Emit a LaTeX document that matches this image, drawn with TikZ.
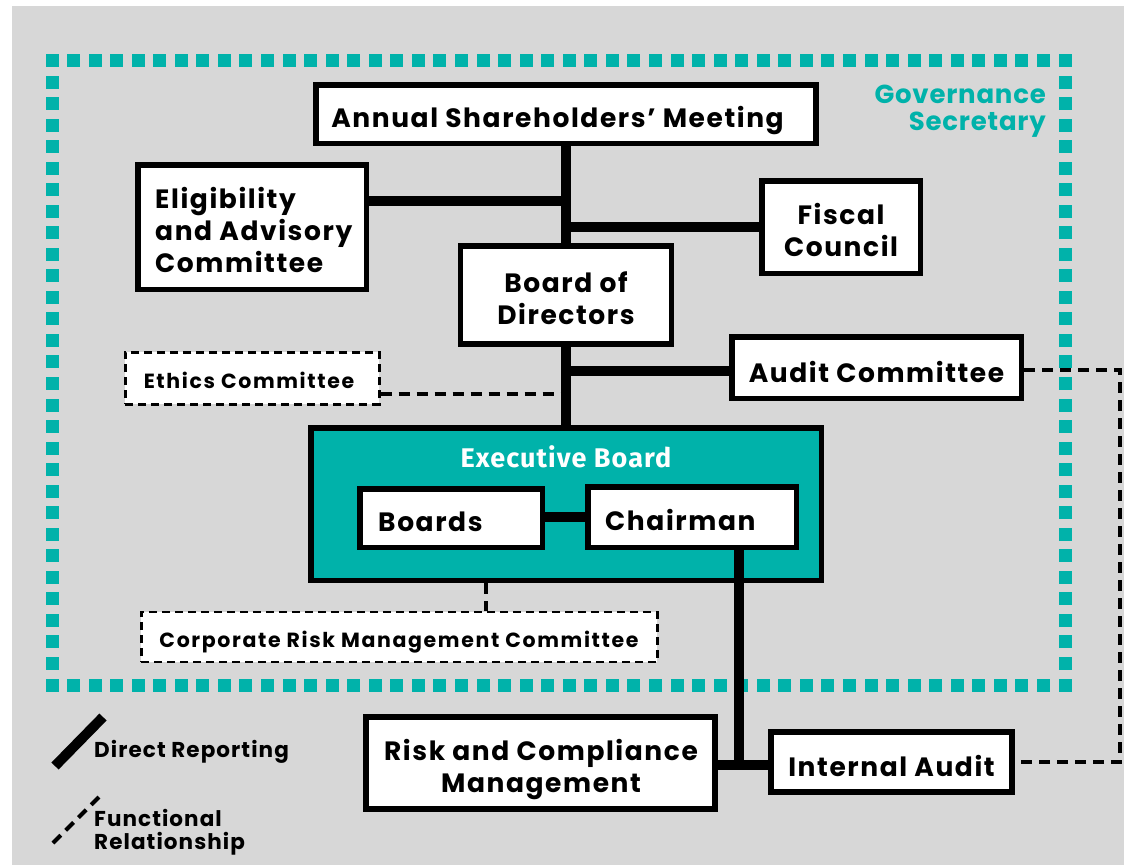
\documentclass[tikz,border=0pt]{standalone}
\usepackage{fontspec}
\setmainfont{Poppins}
\newfontfamily\popw{Poppins}[LetterSpace=6]
\newfontfamily\popg{Poppins}[LetterSpace=3]
\newfontfamily\pops{Poppins}[LetterSpace=8]
\newfontfamily\popl{Poppins}[LetterSpace=5]
\newfontfamily\fira{Fira Sans}[LetterSpace=4]
\definecolor{bgray}{HTML}{D7D7D7}
\definecolor{teal}{HTML}{00B2AA}
\pgfdeclarelayer{bg}
\pgfdeclarelayer{conn}
\pgfsetlayers{bg,conn,main}
\begin{document}
\begin{tikzpicture}[x=1pt,y=-1pt,
  box/.style={draw=black, line width=5.5pt, fill=white, inner sep=0pt},
  dbox/.style={draw=black, line width=2.5pt, dash pattern=on 8pt off 5pt, fill=white, inner sep=0pt},
  txt/.style={font=\popw\bfseries\fontsize{26.5}{32}\selectfont, align=center, inner sep=0pt},
  stxt/.style={font=\pops\bfseries\fontsize{20.5}{24}\selectfont, align=center, inner sep=0pt},
  ltxt/.style={font=\popl\bfseries\fontsize{21.5}{23.5}\selectfont, align=left, inner sep=0pt},
  dr/.style={line width=10pt},
  fr/.style={line width=4pt, dash pattern=on 11pt off 7pt},
  sq/.style={fill=teal}]
\useasboundingbox (0,0) rectangle (1124,865);
\begin{pgfonlayer}{bg}
\fill[white] (0,0) rectangle (1124,865);
\fill[bgray] (12,6) rectangle (1124,865);
% governance frame
\foreach \i in {0,...,47} {
  \fill[sq] ({52+\i*(1013/47)-6.5},54) rectangle ++(13,13);
  \fill[sq] ({52+\i*(1013/47)-6.5},678.5) rectangle ++(13,13);
}
\foreach \i in {1,...,28} {
  \fill[sq] (45.5,{60.5+\i*(624.5/29)-6.5}) rectangle ++(13,13);
  \fill[sq] (1058.5,{60.5+\i*(624.5/29)-6.5}) rectangle ++(13,13);
}
% executive board container
\node[draw=black, line width=5.5pt, fill=teal, minimum width=510.5, minimum height=152.5, inner sep=0pt] (exec) at (566,504) {};
\end{pgfonlayer}

\node[anchor=east, align=right, text=teal, font=\popg\bfseries\fontsize{26}{27}\selectfont, inner sep=0pt] (gov) at (1046,111) {Governance\\Secretary};
\node[text=white, font=\fira\bfseries\fontsize{27}{30}\selectfont, inner sep=0pt] (exect) at (566,457) {Executive Board};

% boxes
\node[box, minimum width=500, minimum height=58.5] (annual) at (566,114) {};
\node[box, minimum width=228.5, minimum height=124.5] (elig) at (252,227) {};
\node[box, minimum width=158.5, minimum height=92.5] (fiscal) at (841,227) {};
\node[box, minimum width=211, minimum height=98] (bod) at (566,295) {};
\node[dbox, minimum width=254, minimum height=52] (eth) at (252.3,378.4) {};
\node[box, minimum width=289.5, minimum height=61.5] (audit) at (876.5,367.5) {};
\node[box, minimum width=182.5, minimum height=58.5] (boards) at (451,518) {};
\node[box, minimum width=208.5, minimum height=60.5] (chair) at (692,517) {};
\node[dbox, minimum width=516, minimum height=49.8] (crm) at (399.3,636.9) {};
\node[box, minimum width=349, minimum height=92] (risk) at (540.5,763) {};
\node[box, minimum width=241, minimum height=60] (ia) at (891.7,762.2) {};

% texts
\node[txt] (annualT) at (557.5,120.5) {Annual Shareholders’ Meeting};
\node[txt, align=left, anchor=west] (eligT) at (155,230) {Eligibility\\and Advisory\\Committee};
\node[txt] (fiscalT) at (841,230) {Fiscal\\Council};
\node[txt] (bodT) at (566,298) {Board of\\Directors};
\node[stxt] (ethT) at (249,380.5) {Ethics Committee};
\node[txt] (auditT) at (876.5,371.5) {Audit Committee};
\node[txt, anchor=west] (boardsT) at (378,522) {Boards};
\node[txt, anchor=west] (chairT) at (605,520) {Chairman};
\node[stxt] (crmT) at (399,642) {Corporate Risk Management Committee};
\node[txt] (riskT) at (541,770) {Risk and Compliance\\Management};
\node[txt] (iaT) at (891.5,766.2) {Internal Audit};

% junction coordinates
\coordinate (jE) at (566,201);
\coordinate (jF) at (566,227);
\coordinate (jA) at (566,370.5);
\coordinate (jEt) at (566,394);
\coordinate (jB) at (560,516.7);
\coordinate (jX) at (485.5,600);
\coordinate (jC) at (739,765);
\coordinate (jR) at (1120,370);

\begin{pgfonlayer}{conn}
\draw[dr] (annual.south) -- (bod.north);
\draw[dr] (bod.south) -- (exec.north);
\draw[dr] (elig.east |- jE) -- (jE);
\draw[dr] (jF) -- (fiscal.west |- jF);
\draw[dr] (jA) -- (audit.west |- jA);
\draw[fr] (eth.east |- jEt) -- (jEt);
\draw[dr] (boards.east |- jB) -- (chair.west |- jB);
\draw[dr] (chair.south -| jC) -- (jC);
\draw[dr] (risk.east |- jC) -- (ia.west |- jC);
\draw[fr] (exec.south -| jX) -- (crm.north -| jX);
\draw[fr] (audit.east |- jR) -- (jR) -- (jR |- ia.east) -- (ia.east);
\end{pgfonlayer}

% legend
\draw[dr] (55,766) -- (103,717);
\node[ltxt, anchor=base west] (ldr) at (94,757) {Direct Reporting};
\draw[fr] (53,843) -- (101,795);
\node[ltxt, anchor=west] (lfr) at (94,832) {Functional\\Relationship};
\end{tikzpicture}
\end{document}
